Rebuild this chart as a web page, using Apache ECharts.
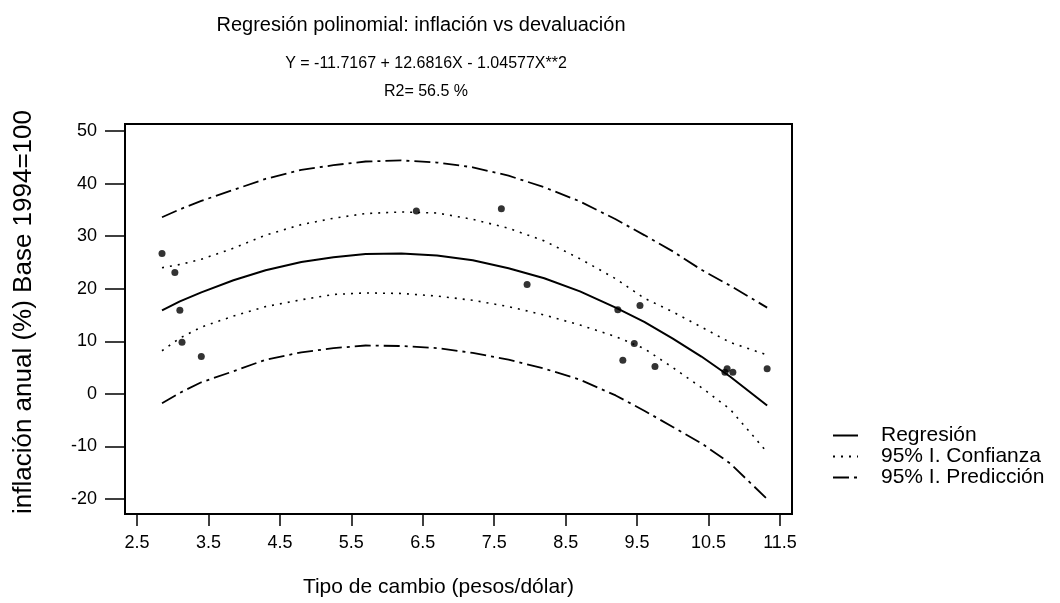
<!DOCTYPE html>
<html>
<head>
<meta charset="utf-8">
<script src="https://cdn.jsdelivr.net/npm/echarts@6/dist/echarts.min.js"></script>
<style>
  html, body { margin: 0; padding: 0; background: #fff; }
  #chart { width: 1060px; height: 603px; }
</style>
</head>
<body>
<div id="chart"></div>
<script>
// observed points: exchange rate (x) vs annual inflation (y)
const obsX = [2.85, 3.03, 3.10, 3.13, 3.40, 6.41, 7.60, 7.96, 9.23, 9.54, 9.46, 9.30, 9.75, 10.73, 10.76, 10.84, 11.32];
const obsY = [26.7, 23.1, 15.9, 9.8, 7.1, 34.8, 35.2, 20.8, 16.0, 16.8, 9.6, 6.4, 5.2, 4.1, 4.8, 4.1, 4.8];

// fitted curve and bands
const curveX  = [2.85, 3.1, 3.4, 3.85, 4.3, 4.8, 5.25, 5.7, 6.2, 6.7, 7.2, 7.7, 8.2, 8.7, 9.2, 9.6, 10.0, 10.4, 10.8, 11.32];
const regY    = [15.9, 17.6, 19.3, 21.6, 23.5, 25.1, 26.0, 26.6, 26.7, 26.3, 25.4, 23.9, 22.0, 19.5, 16.4, 13.7, 10.5, 7.1, 3.3, -2.2];
const ciUpper = [24.0, 24.6, 25.6, 27.7, 30.2, 32.2, 33.4, 34.3, 34.6, 34.4, 33.2, 31.5, 29.1, 25.7, 21.9, 18.2, 15.6, 12.7, 9.8, 7.4];
const ciLower = [8.2, 10.6, 12.7, 14.8, 16.6, 17.9, 18.9, 19.2, 19.1, 18.6, 17.8, 16.6, 15.0, 13.1, 10.9, 8.6, 5.0, 1.2, -2.9, -11.1];
const piUpper = [33.6, 35.1, 36.7, 38.8, 40.9, 42.6, 43.5, 44.2, 44.4, 44.0, 43.1, 41.5, 39.3, 36.6, 33.2, 30.2, 27.1, 23.6, 20.6, 16.4];
const piLower = [-1.8, 0.2, 2.2, 4.3, 6.5, 7.9, 8.7, 9.2, 9.1, 8.7, 7.8, 6.5, 4.8, 2.7, -0.3, -3.2, -6.3, -9.4, -13.2, -20.0];

const xTicks = [2.5, 3.5, 4.5, 5.5, 6.5, 7.5, 8.5, 9.5, 10.5, 11.5];
const yTicks = [-20, -10, 0, 10, 20, 30, 40, 50];

const FONT = 'Liberation Sans';

function pairs(xs, ys) {
    return xs.map((x, i) => [x, ys[i]]);
}

function lineSeries(name, ys, type, width) {
    return {
        name: name,
        type: 'line',
        data: pairs(curveX, ys),
        symbol: 'none',
        clip: false,
        itemStyle: { color: '#000' },
        lineStyle: { color: '#000', width: width, type: type },
        z: 3
    };
}

const chart = echarts.init(document.getElementById('chart'), null, { renderer: 'canvas' });

chart.setOption({
    animation: false,
    backgroundColor: '#fff',
    textStyle: { fontFamily: FONT, color: '#000' },
    title: [
        {
            text: 'Regresión polinomial: inflación vs devaluación',
            left: 416, top: 10, textAlign: 'center',
            textStyle: { fontFamily: FONT, fontSize: 20, fontWeight: 'normal', color: '#000' }
        },
        {
            text: 'Y = -11.7167 + 12.6816X - 1.04577X**2',
            left: 421, top: 51, textAlign: 'center',
            textStyle: { fontFamily: FONT, fontSize: 16, fontWeight: 'normal', color: '#000' }
        },
        {
            text: 'R2= 56.5 %',
            left: 421, top: 79, textAlign: 'center',
            textStyle: { fontFamily: FONT, fontSize: 16, fontWeight: 'normal', color: '#000' }
        }
    ],
    legend: {
        orient: 'vertical',
        left: 832, top: 425, padding: 0,
        itemWidth: 25, itemHeight: 14, itemGap: 0,
        itemStyle: { opacity: 0 },
        data: ['Regresión', '95% I. Confianza', '95% I. Predicción'],
        textStyle: { fontFamily: FONT, fontSize: 21, lineHeight: 20, color: '#000', padding: [0, 0, 0, 18] }
    },
    grid: {
        left: 125, right: 268, top: 124, bottom: 88,
        show: true, borderColor: '#000', borderWidth: 2,
        backgroundColor: 'transparent'
    },
    xAxis: {
        type: 'value',
        min: 2.332, max: 11.668,
        name: 'Tipo de cambio (pesos/dólar)',
        nameLocation: 'middle', nameGap: 63,
        nameTextStyle: { fontFamily: FONT, fontSize: 21, color: '#000', padding: [0, 40, 0, 0] },
        axisLine: { show: false, onZero: false },
        splitLine: { show: false },
        axisTick: { show: true, length: 12, customValues: xTicks, lineStyle: { color: '#000', width: 1.5 } },
        axisLabel: { customValues: xTicks, margin: 20, fontFamily: FONT, fontSize: 18, color: '#000' }
    },
    yAxis: {
        type: 'value',
        min: -22.85, max: 51.33,
        name: 'inflación anual (%) Base 1994=100',
        nameLocation: 'middle', nameGap: 88,
        nameTextStyle: { fontFamily: FONT, fontSize: 26, color: '#000', padding: [0, 0, 0, 14] },
        axisLine: { show: false, onZero: false },
        splitLine: { show: false },
        axisTick: { show: true, length: 20, customValues: yTicks, lineStyle: { color: '#000', width: 1.5 } },
        axisLabel: { customValues: yTicks, margin: 28, fontFamily: FONT, fontSize: 18, color: '#000' }
    },
    series: [
        lineSeries('Regresión', regY, 'solid', 2),
        lineSeries('95% I. Confianza', ciUpper, [2, 6], 1.6),
        lineSeries('95% I. Confianza', ciLower, [2, 6], 1.6),
        lineSeries('95% I. Predicción', piUpper, [16, 5, 3, 5], 1.8),
        lineSeries('95% I. Predicción', piLower, [16, 5, 3, 5], 1.8),
        {
            name: 'Datos',
            type: 'scatter',
            data: pairs(obsX, obsY),
            symbol: 'circle',
            symbolSize: 7,
            itemStyle: { color: '#000' },
            z: 4
        }
    ]
});
</script>
</body>
</html>
